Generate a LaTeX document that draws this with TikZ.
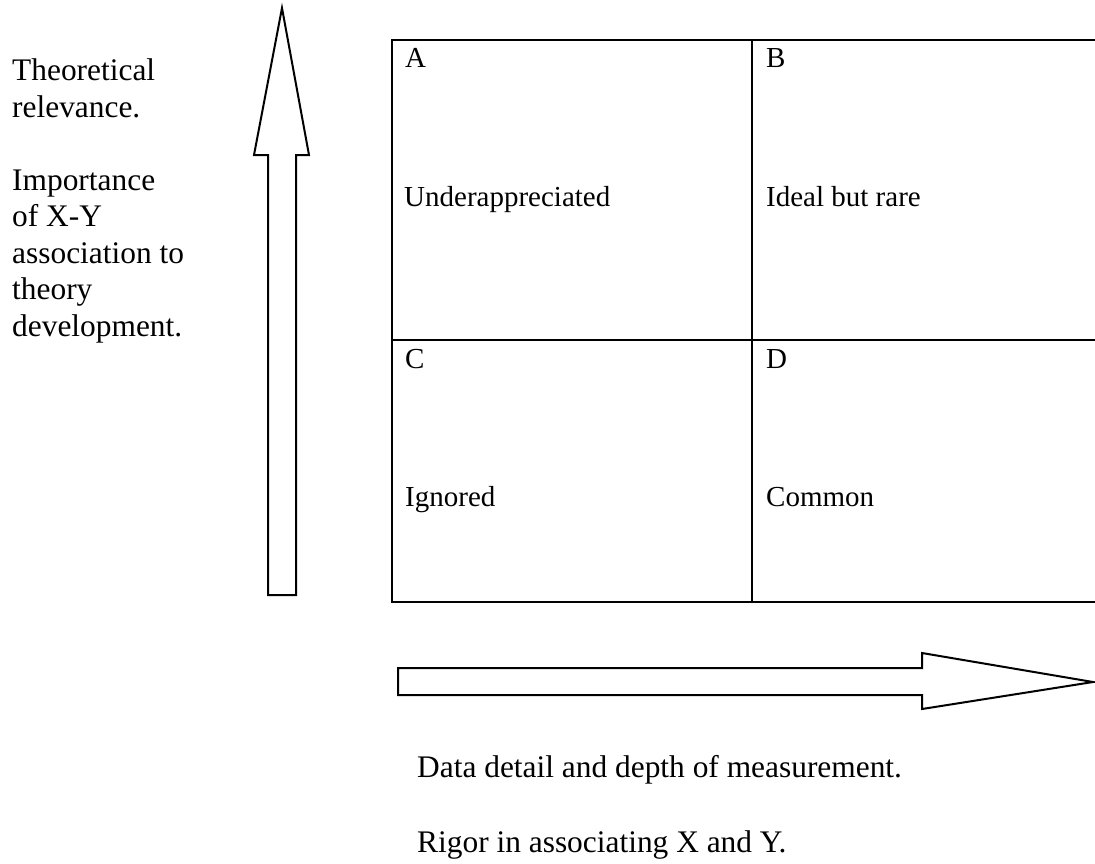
\documentclass[tikz,border=0pt]{standalone}
\usepackage{fontspec}
\setmainfont{Liberation Serif}
\begin{document}
\begin{tikzpicture}[x=1pt,y=-1pt,
  lbl/.style={anchor=base west,inner sep=0pt,font=\fontsize{29}{36.5}\selectfont},
  biglbl/.style={anchor=base west,inner sep=0pt,font=\fontsize{31.4}{36.5}\selectfont},
  outline/.style={draw=black,line width=2pt,line join=miter},
  gridline/.style={draw=black,line width=2pt}]
\clip (0,0) rectangle (1095,863);
\fill[white] (0,0) rectangle (1095,863);
% left axis text
\node[biglbl] (t1) at (12,80) {Theoretical};
\node[biglbl] (t2) at (12,117) {relevance.};
\node[biglbl] (t3) at (12,190) {Importance};
\node[biglbl] (t4) at (12,226) {of X-Y};
\node[biglbl] (t5) at (12,263) {association to};
\node[biglbl] (t6) at (12,299) {theory};
\node[biglbl] (t7) at (12,336) {development.};
% up arrow
\draw[outline] (282,8) -- (309,155) -- (296,155) -- (296,595) -- (268,595) -- (268,155) -- (254,155) -- cycle;
% grid
\coordinate (tl) at (392,40);
\coordinate (br) at (1120,602);
\draw[gridline] (tl) rectangle (br);
\coordinate (vt) at (752,40);
\coordinate (vb) at (752,602);
\draw[gridline] (vt) -- (vb);
\coordinate (hl) at (392,340);
\coordinate (hr) at (1120,340);
\draw[gridline] (hl) -- (hr);
% cell labels
\node[lbl] (A) at (405,67) {A};
\node[lbl] (B) at (766,67) {B};
\node[lbl] (under) at (404,206) {Underappreciated};
\node[lbl] (ideal) at (766,206) {Ideal but rare};
\node[lbl] (C) at (405,368) {C};
\node[lbl] (D) at (766,368) {D};
\node[lbl] (ign) at (405,506) {Ignored};
\node[lbl] (com) at (766,506) {Common};
% right arrow
\draw[outline] (398,668) -- (922,668) -- (922,653) -- (1093,682) -- (922,709) -- (922,695) -- (398,695) -- cycle;
% bottom text
\node[biglbl] (b1) at (417,777) {Data detail and depth of measurement.};
\node[biglbl] (b2) at (417,852) {Rigor in associating X and Y.};
\end{tikzpicture}
\end{document}
